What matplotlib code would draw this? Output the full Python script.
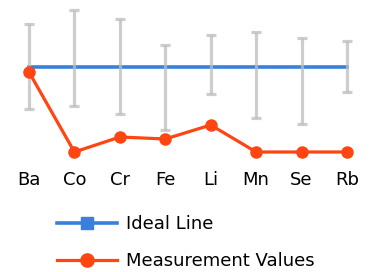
import matplotlib
matplotlib.use("Agg")
import matplotlib.pyplot as plt
import numpy as np

elements = ["Ba", "Co", "Cr", "Fe", "Li", "Mn", "Se", "Rb"]
ideal = [0, 0, 0, 0, 0, 0, 0, 0]
measured = [-0.5, -8.5, -7.0, -7.2, -5.8, -8.5, -8.5, -8.5]
range_high = [4.3, 5.7, 4.8, 2.2, 3.2, 3.5, 2.9, 2.6]
range_low = [-4.2, -3.9, -4.7, -6.3, -2.7, -5.1, -5.7, -2.5]

plt.rcParams["font.family"] = ["DejaVu Sans"]

fig = plt.figure(figsize=(3.72, 2.72), dpi=100)
ax = fig.add_axes([0, 1 - 165 / 272, 1, 165 / 272])

x = np.arange(len(elements))
hi = np.array(range_high)
lo = np.array(range_low)
mid = (hi + lo) / 2
half = (hi - lo) / 2

ax.plot(x, ideal, color="#3a7fdc", lw=2.6, marker="s", ms=0, label="Ideal Line", zorder=2)
ax.errorbar(x, mid, yerr=half, fmt="none", ecolor="#bdbdbd", alpha=0.75,
            elinewidth=2.3, capsize=3.8, capthick=2.3, zorder=3)
ax.plot(x, measured, color="#ff4512", lw=2.3, marker="o", ms=8, label="Measurement Values", zorder=4)

ax.set_xlim(-0.638, 7.55)
ax.set_ylim(-9.8, 6.7)
ax.set_xticks(x)
ax.set_xticklabels(elements, fontsize=13)
ax.set_yticks([])
ax.tick_params(axis="x", length=0, pad=4)
for s in ax.spines.values():
    s.set_visible(False)

h1 = plt.Line2D([], [], color="#3a7fdc", lw=2.6, marker="s", ms=9)
h2 = plt.Line2D([], [], color="#ff4512", lw=2.3, marker="o", ms=9.5)
fig.legend([h1, h2], ["Ideal Line", "Measurement Values"], loc="upper left",
           bbox_to_anchor=(57 / 372, 1 - 215 / 272), frameon=False, fontsize=13,
           handlelength=3.3, handletextpad=0.5, labelspacing=1.05, borderpad=0,
           borderaxespad=0)

fig.savefig("out.png", dpi=100)
